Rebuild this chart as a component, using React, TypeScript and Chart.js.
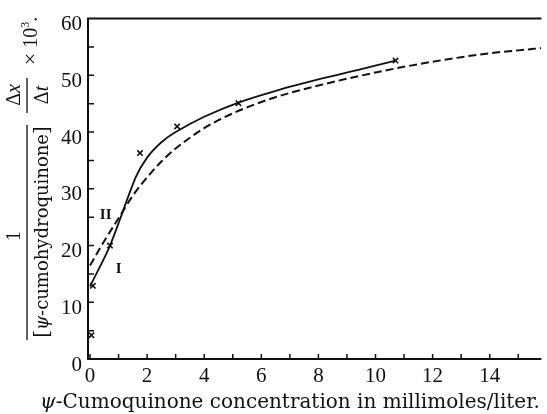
import React, { useEffect, useRef } from "react";
import { Chart, registerables } from "chart.js";

Chart.register(...registerables);

// ---- data ----
const solidX = [0, 0.7, 1.6, 2.0, 2.5, 3.0, 4.0, 5.2, 6.6, 8.1, 9.5, 10.7];
const solidY = [12.8, 20.0, 32.0, 35.5, 38.2, 40.0, 42.7, 45.2, 47.4, 49.4, 51.1, 52.6];

const dashX = [0, 0.5, 1, 1.5, 2, 2.5, 3, 3.5, 4, 5, 6, 7, 8, 9, 10, 11, 12, 13, 14, 15, 15.8];
const dashY = [16.5, 20.8, 24.8, 28.8, 32.0, 34.8, 37.1, 39.0, 40.7, 43.3, 45.3, 46.9, 48.2, 49.4, 50.5, 51.5, 52.4, 53.2, 53.9, 54.4, 54.8];

const markX = [0.05, 0.1, 0.7, 1.75, 3.05, 5.2, 10.7];
const markY = [4.2, 12.9, 20.0, 36.3, 41.0, 45.1, 52.6];

const noteText = ["I", "II"];
const noteX = [1.0, 0.55];
const noteY = [15.8, 25.4];

const xTickValues = [0, 2, 4, 6, 8, 10, 12, 14];
const yTickValues = [0, 10, 20, 30, 40, 50, 60];
const xMinorTicks = [0, 1, 2, 3, 4, 5, 6, 7, 8, 9, 10, 11, 12, 13, 14, 15];
const yMinorTicks = [5, 10, 15, 20, 25, 30, 35, 40, 45, 50, 55];

const SERIF = "'Liberation Serif', 'DejaVu Serif', serif";
const WIDE = "'DejaVu Serif', 'Liberation Serif', serif";
const INK = "#111";

type Part = { t: string; f: string; dy?: number };

function drawRun(ctx: CanvasRenderingContext2D, parts: Part[], cx: number, cy: number, rotate: boolean) {
  ctx.save();
  ctx.translate(cx, cy);
  if (rotate) ctx.rotate(-Math.PI / 2);
  ctx.textBaseline = "alphabetic";
  ctx.textAlign = "left";
  let total = 0;
  const widths = parts.map((p) => {
    ctx.font = p.f;
    const w = ctx.measureText(p.t).width;
    total += w;
    return w;
  });
  let u = -total / 2;
  parts.forEach((p, i) => {
    ctx.font = p.f;
    ctx.fillText(p.t, u, p.dy ?? 0);
    u += widths[i];
  });
  ctx.restore();
}

const decorPlugin = {
  id: "decor",
  afterDraw(chart: any) {
    const ctx: CanvasRenderingContext2D = chart.ctx;
    const { left, right, top, bottom } = chart.chartArea;
    const xs = chart.scales.x;
    const ys = chart.scales.y;
    ctx.save();
    ctx.strokeStyle = INK;
    ctx.fillStyle = INK;
    // frame: left, bottom, top
    ctx.lineWidth = 2;
    ctx.beginPath();
    ctx.moveTo(left, top);
    ctx.lineTo(left, bottom);
    ctx.moveTo(left - 1, bottom);
    ctx.lineTo(right, bottom);
    ctx.moveTo(left - 1, top);
    ctx.lineTo(right, top);
    ctx.stroke();
    // inward ticks
    ctx.lineWidth = 1.5;
    ctx.beginPath();
    xMinorTicks.forEach((v) => {
      const px = xs.getPixelForValue(v);
      ctx.moveTo(px, bottom);
      ctx.lineTo(px, bottom - 5);
    });
    yMinorTicks.forEach((v) => {
      const py = ys.getPixelForValue(v);
      ctx.moveTo(left, py);
      ctx.lineTo(left + 6, py);
    });
    ctx.stroke();
    // notes I / II
    ctx.font = `bold 15px ${SERIF}`;
    ctx.textAlign = "center";
    ctx.textBaseline = "middle";
    noteText.forEach((t, i) => {
      ctx.fillText(t, xs.getPixelForValue(noteX[i]), ys.getPixelForValue(noteY[i]));
    });

    // y-axis title (rotated)
    const f18 = `18px ${WIDE}`;
    const f18i = `italic 18px ${WIDE}`;
    const f20 = `20px ${SERIF}`;
    drawRun(ctx, [{ t: "1", f: `20px ${SERIF}` }], 20, 236, true);
    drawRun(ctx, [{ t: "[", f: `20px ${WIDE}` }, { t: "ψ", f: f18i }, { t: "-cumohydroquinone", f: f18 }, { t: "]", f: `20px ${WIDE}` }], 48, 232, true);
    drawRun(ctx, [{ t: "Δ", f: `20px ${SERIF}` }, { t: "x", f: `italic 20px ${SERIF}` }], 20, 95, true);
    drawRun(ctx, [{ t: "Δ", f: `20px ${SERIF}` }, { t: "t", f: `italic 20px ${SERIF}` }], 48, 95, true);
    drawRun(ctx, [{ t: "×", f: `22px ${SERIF}` }, { t: " 10", f: f20 }, { t: "3", f: `12px ${SERIF}`, dy: -8 }, { t: ".", f: f20 }], 37, 41, true);
    ctx.lineWidth = 1.3;
    ctx.beginPath();
    ctx.moveTo(27, 125);
    ctx.lineTo(27, 340);
    ctx.moveTo(27, 78);
    ctx.lineTo(27, 113);
    ctx.stroke();

    // x-axis title
    drawRun(ctx, [{ t: "ψ", f: `italic 20px ${WIDE}` }, { t: "-Cumoquinone concentration in millimoles/liter.", f: `20px ${WIDE}` }], 290, 408, false);
    ctx.restore();
  },
};

export default function App() {
  const ref = useRef<HTMLCanvasElement>(null);
  useEffect(() => {
    if (!ref.current) return;
    const pts = (xa: number[], ya: number[]) => xa.map((x, i) => ({ x, y: ya[i] }));
    const chart = new Chart(ref.current, {
      type: "scatter",
      data: {
        datasets: [
          {
            label: "solid",
            data: pts(solidX, solidY),
            showLine: true,
            borderColor: INK,
            borderWidth: 1.8,
            pointRadius: 0,
            tension: 0.3,
          },
          {
            label: "dashed",
            data: pts(dashX, dashY),
            showLine: true,
            borderColor: INK,
            borderWidth: 2,
            borderDash: [8, 4],
            pointRadius: 0,
            cubicInterpolationMode: "monotone",
          },
          {
            label: "points",
            data: pts(markX, markY),
            showLine: false,
            pointStyle: "crossRot",
            pointRadius: 3.8,
            borderColor: INK,
            borderWidth: 1.6,
          },
        ],
      } as any,
      options: {
        animation: false,
        responsive: false,
        devicePixelRatio: 1,
        layout: { padding: { left: 48, top: 13, right: 0, bottom: 0 } },
        plugins: { legend: { display: false }, tooltip: { enabled: false }, title: { display: false } },
        scales: {
          x: {
            type: "linear",
            min: -0.07,
            max: 15.81,
            grid: { display: false, drawTicks: false },
            border: { display: false },
            afterBuildTicks: (s: any) => {
              s.ticks = xTickValues.map((v) => ({ value: v }));
            },
            afterFit: (s: any) => {
              s.height = 55;
            },
            ticks: { color: INK, font: { family: SERIF, size: 21 }, padding: 5, maxRotation: 0, autoSkip: false },
          },
          y: {
            type: "linear",
            min: 0,
            max: 60,
            grid: { display: false, drawTicks: false },
            border: { display: false },
            afterBuildTicks: (s: any) => {
              s.ticks = yTickValues.map((v) => ({ value: v }));
            },
            afterFit: (s: any) => {
              s.width = 40;
            },
            ticks: { color: INK, font: { family: SERIF, size: 21 }, padding: 6, labelOffset: 6, autoSkip: false },
          },
        },
      } as any,
      plugins: [decorPlugin],
    });
    return () => chart.destroy();
  }, []);
  return (
    <div style={{ position: "fixed", left: 0, top: 0, width: 547, height: 414, background: "#fff" }}>
      <canvas ref={ref} width={547} height={414} style={{ display: "block", width: 547, height: 414 }} />
    </div>
  );
}
